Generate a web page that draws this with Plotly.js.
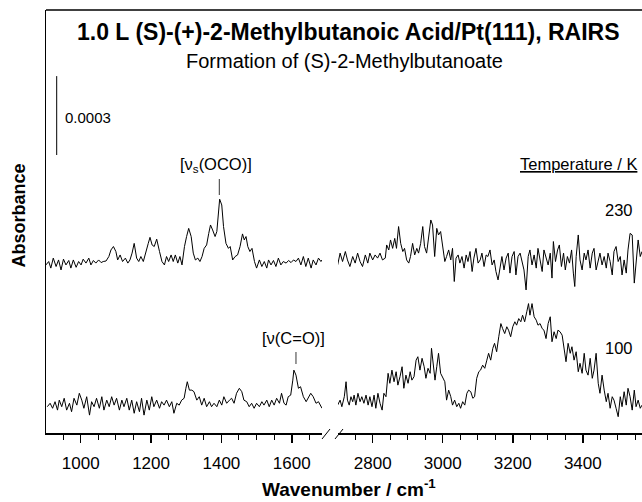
<!DOCTYPE html>
<html>
<head>
<meta charset="utf-8">
<script src="https://cdn.plot.ly/plotly-3.0.1.min.js"></script>
<style>html,body{margin:0;padding:0;background:#fff;}#chart{width:642px;height:502px;}</style>
</head>
<body>
<div id="chart"></div>
<script>
// Absorbance values in units of 1e-4, relative to each trace's baseline
const top_low_wn = [901,909,915,922,930,937,944,951,958,966,972,979,987,994,1001,1007,1015,1023,1029,1036,1043,1051,1058,1064,1072,1080,1086,1093,1100,1105,1112,1119,1127,1134,1140,1146,1152,1159,1165,1171,1178,1186,1192,1197,1203,1209,1216,1224,1231,1238,1244,1250,1257,1263,1269,1276,1282,1288,1295,1301,1307,1314,1320,1326,1333,1339,1345,1351,1358,1364,1369,1375,1382,1387,1391,1395,1401,1406,1413,1420,1425,1432,1439,1446,1453,1458,1460,1465,1470,1475,1481,1487,1494,1500,1508,1515,1522,1529,1534,1541,1548,1555,1562,1569,1576,1584,1591,1598,1605,1612,1619,1626,1633,1640,1647,1655,1661,1669,1676,1683,1686];
const top_low_abs = [-0.04,0.09,-0.16,0.22,-0.10,0.15,-0.23,0.18,-0.04,0.13,-0.16,0.15,-0.13,0.09,-0.04,0.18,0.03,0.22,-0.04,0.13,0.03,0.15,0.05,0.09,0.11,0.28,0.53,0.66,0.47,0.15,0.34,0.09,0.22,0.03,0.15,0.41,0.78,0.22,0.09,0.28,0.09,0.53,0.78,1.01,0.72,0.66,0.94,0.47,0.09,-0.04,0.28,0.09,0.34,0.09,0.34,0.03,0.28,-0.04,0.66,1.04,1.35,1.04,0.41,0.15,0.22,0.09,0.28,0.59,0.72,1.16,1.48,1.29,1.04,1.23,1.92,2.46,2.24,1.42,0.78,0.59,0.66,0.15,0.28,0.34,0.66,1.04,1.14,0.91,1.04,0.66,0.47,0.59,0.09,-0.16,0.15,-0.10,0.09,-0.16,0.15,-0.04,0.13,-0.10,0.22,-0.04,0.09,0.03,0.13,0.05,0.15,0.09,0.22,-0.04,0.28,-0.10,0.22,-0.16,0.15,-0.04,0.22,0.09,0.15];

const top_high_wn = [2700,2707,2714,2722,2728,2735,2743,2750,2757,2764,2771,2779,2786,2792,2800,2807,2814,2821,2828,2836,2840,2846,2851,2857,2863,2868,2874,2880,2886,2891,2897,2903,2908,2914,2920,2926,2931,2937,2943,2948,2954,2960,2966,2971,2977,2983,2988,2994,3000,3006,3011,3017,3023,3028,3033,3038,3044,3049,3055,3061,3067,3072,3078,3084,3089,3095,3101,3107,3112,3118,3124,3129,3135,3141,3147,3152,3158,3164,3169,3175,3181,3187,3192,3198,3204,3209,3215,3221,3227,3232,3238,3244,3249,3255,3261,3267,3272,3278,3284,3289,3295,3301,3307,3312,3316,3322,3328,3333,3339,3345,3350,3356,3362,3368,3373,3377,3381,3387,3392,3398,3404,3409,3415,3421,3427,3432,3438,3444,3449,3455,3461,3467,3472,3478,3484,3489,3495,3501,3507,3512,3518,3524,3529,3535,3541,3547,3552,3558,3564,3569];
const top_high_abs = [-0.04,0.41,0.09,0.47,0.15,-0.10,0.28,0.03,0.41,0.09,-0.10,0.34,0.03,0.41,0.15,0.34,0.22,0.41,0.15,0.22,0.72,0.53,0.91,0.59,0.97,0.59,1.42,0.78,0.47,0.59,0.15,0.03,0.28,0.78,0.34,0.59,0.41,0.78,1.42,0.66,0.41,1.16,1.67,1.48,0.28,1.35,1.10,1.23,0.66,0.09,0.28,0.53,0.15,0.59,-0.67,0.22,0.34,0.03,0.28,-0.16,0.34,0.09,0.47,-0.29,0.22,0.59,0.03,0.15,0.41,-0.10,0.34,0.28,0.53,-0.04,0.15,-0.29,-0.61,-0.10,0.28,-0.23,0.22,0.41,-0.35,0.28,0.47,-0.42,0.28,0.41,0.09,-0.23,-0.99,0.28,0.53,-0.04,0.34,-0.16,0.59,0.15,-0.29,0.53,0.22,-0.04,0.41,-0.54,0.85,0.09,0.53,0.72,-0.10,0.41,-0.23,0.28,0.03,0.53,-0.35,-0.86,0.28,1.10,0.15,-0.23,0.41,0.15,0.53,-0.16,0.41,0.59,-0.23,0.15,0.41,-0.04,0.28,-0.16,0.41,0.09,-0.42,0.47,0.66,0.09,0.28,-0.42,0.15,-0.35,0.53,1.16,1.10,-0.73,0.03,0.91,0.28,0.47];

const bottom_low_wn = [905,913,920,927,934,939,946,953,960,968,974,981,989,996,1003,1009,1017,1025,1031,1038,1045,1053,1060,1066,1074,1081,1088,1095,1102,1110,1117,1123,1131,1138,1145,1152,1159,1167,1173,1180,1188,1195,1202,1208,1216,1224,1230,1237,1244,1252,1259,1265,1273,1280,1287,1294,1299,1303,1309,1316,1322,1330,1337,1344,1351,1358,1366,1372,1379,1387,1394,1401,1407,1415,1423,1429,1436,1443,1451,1458,1464,1472,1479,1486,1493,1500,1508,1515,1521,1529,1536,1543,1550,1557,1565,1571,1578,1584,1590,1597,1603,1606,1612,1619,1625,1633,1641,1647,1654,1661,1669,1676,1682,1686];
const bottom_low_abs = [0,0.13,-0.06,0.19,-0.13,0.25,0,0.32,-0.13,0.13,-0.19,0.32,0.06,0.51,0.25,-0.06,0.38,-0.32,0.19,0,0.32,-0.06,0.38,-0.13,0.25,0,0.38,0.06,0.32,-0.13,0.25,0,0.32,-0.13,0.25,-0.25,0.19,-0.19,0.32,-0.32,0.25,-0.13,0.38,0,0.25,-0.06,0.19,0.06,0.25,0,0.19,-0.25,0.13,0.06,0.25,0.32,0.70,0.95,0.63,0.63,0.57,0.25,0.38,0.06,0.32,0,0.19,0,0.13,0,0.25,0.06,0.38,0.13,0.25,0.32,0.13,0.51,0.70,0.57,0.25,0.19,0,0.13,-0.06,0.13,0,0.19,0.06,0.25,0,0.25,0.06,0.32,0.13,0.51,0.13,0.06,0.38,0.44,1.01,1.39,1.20,0.70,0.76,0.38,0.19,0.32,0.51,0.38,0.13,0.19,0,-0.06];

const bottom_high_wn = [2700,2707,2712,2719,2724,2728,2733,2738,2743,2747,2752,2758,2764,2769,2775,2781,2787,2792,2798,2804,2809,2815,2821,2827,2832,2838,2844,2849,2855,2861,2867,2872,2878,2884,2889,2895,2901,2907,2912,2918,2924,2929,2935,2941,2947,2952,2958,2964,2968,2973,2978,2983,2988,2994,3000,3006,3011,3017,3023,3028,3034,3040,3046,3051,3057,3063,3069,3074,3080,3086,3091,3097,3103,3108,3114,3120,3126,3131,3137,3143,3148,3154,3160,3166,3171,3177,3183,3188,3194,3200,3206,3211,3217,3223,3228,3234,3240,3245,3249,3255,3261,3267,3272,3278,3284,3289,3295,3301,3307,3312,3318,3324,3329,3335,3341,3347,3352,3358,3364,3369,3375,3381,3387,3392,3398,3404,3409,3415,3421,3427,3432,3438,3444,3449,3455,3461,3467,3472,3478,3484,3489,3495,3501,3507,3512,3518,3524,3529,3535,3541,3547,3552,3558,3564,3569];
const bottom_high_abs = [0.06,0.25,0,0.38,0.95,0.25,0.06,0.38,0.19,0.44,0.06,0.51,0.19,0.38,0.13,0.44,0.06,0.38,0,0.44,-0.06,0.51,0.13,-0.13,0.51,0.38,1.27,0.89,1.39,0.95,1.33,0.82,1.14,1.52,0.70,1.20,0.89,1.33,1.01,1.14,1.77,1.90,1.39,1.84,1.52,1.08,1.46,1.27,2.22,1.71,1.01,1.52,2.03,1.27,1.08,0.95,0.25,0.63,0.38,0.06,0.25,0,0.13,-0.06,0.19,0.06,0.51,0.63,0.57,0.32,0.38,1.08,1.33,1.39,1.58,1.46,1.77,2.03,1.77,2.22,2.41,2.09,2.66,3.16,2.97,2.78,3.04,2.91,2.66,3.04,3.23,3.10,3.35,3.23,3.48,3.23,3.61,3.92,3.48,3.92,3.42,3.29,3.10,3.16,2.97,2.91,2.59,3.16,3.42,2.47,2.85,2.59,2.91,2.85,2.72,2.15,1.71,2.41,2.03,2.28,1.77,2.09,1.33,1.65,1.27,2.03,1.39,1.20,1.84,1.08,1.39,2.03,0.89,0.51,1.20,0.63,0.19,0.51,-0.06,0.38,0.25,-0.06,-0.38,0.38,0,0.57,0.06,0.70,0.38,-0.13,0.63,0,0.25,-0.06,0.06];

const temperatures = ["230","100"];
const scaleBarAbs = 0.0003;
const UNIT = 1e-4;

// layout geometry (pixels)
const L = 46, T = 10, PW = 596, PH = 423;
const PXU = 26.3; // pixels per 1e-4 absorbance
const TOP_OFF = 6.43, BOT_OFF = 1.0;
const px = p => (p - L) / PW;
const py = p => (T + PH - p) / PH;
const yv = p => (T + PH - p) / PXU;

const FONT = "Liberation Sans, Arial, Helvetica, sans-serif";
const line = {color: "black", width: 1};

const traces = [
  {x: top_low_wn, y: top_low_abs.map(v => v + TOP_OFF), xaxis: "x", yaxis: "y"},
  {x: top_high_wn, y: top_high_abs.map(v => v + TOP_OFF), xaxis: "x2", yaxis: "y"},
  {x: bottom_low_wn, y: bottom_low_abs.map(v => v + BOT_OFF), xaxis: "x", yaxis: "y"},
  {x: bottom_high_wn, y: bottom_high_abs.map(v => v + BOT_OFF), xaxis: "x2", yaxis: "y"}
].map(t => Object.assign({type: "scatter", mode: "lines", line: line, hoverinfo: "skip"}, t));

const xcommon = {
  showline: true, linecolor: "black", linewidth: 1.5,
  ticks: "outside", ticklen: 8, tickwidth: 1.5, tickcolor: "black",
  dtick: 200, tick0: 0,
  minor: {dtick: 50, tick0: 0, ticks: "outside", ticklen: 5, tickwidth: 1, tickcolor: "black"},
  showgrid: false, zeroline: false,
  tickfont: {family: FONT, size: 17, color: "black"},
  ticklabelstandoff: 6,
  anchor: "y", fixedrange: true
};

const layout = {
  width: 642, height: 502,
  margin: {l: L, r: 0, t: T, b: 502 - T - PH, pad: 0},
  paper_bgcolor: "white", plot_bgcolor: "white",
  showlegend: false, hovermode: false,
  xaxis: Object.assign({}, xcommon, {domain: [0, px(322)], range: [901.3, 1686]}),
  xaxis2: Object.assign({}, xcommon, {domain: [px(338), 1], range: [2701, 3569]}),
  yaxis: {domain: [0, 1], range: [0, PH / PXU], showline: true, linecolor: "black", linewidth: 1.5,
          ticks: "", showticklabels: false, showgrid: false, zeroline: false, anchor: "x", fixedrange: true},
  shapes: [
    {type: "line", xref: "paper", yref: "paper", x0: 0, x1: 1, y0: 1, y1: 1, line: {color: "black", width: 1.5}},
    {type: "line", xref: "paper", yref: "paper", x0: px(322), x1: px(330), y0: py(439), y1: py(429), line: {color: "black", width: 1}},
    {type: "line", xref: "paper", yref: "paper", x0: px(335), x1: px(343), y0: py(439), y1: py(429), line: {color: "black", width: 1}},
    {type: "line", xref: "paper", yref: "y", x0: px(56.7), x1: px(56.7), y0: yv(155), y1: yv(155) + scaleBarAbs / UNIT, line: {color: "black", width: 1}},
    {type: "line", xref: "x", yref: "y", x0: 1394, x1: 1394, y0: yv(195), y1: yv(179), line: {color: "black", width: 0.8}},
    {type: "line", xref: "x", yref: "y", x0: 1612, x1: 1612, y0: yv(364), y1: yv(352), line: {color: "black", width: 0.8}}
  ],
  annotations: [
    {text: "<b>1.0 L (S)-(+)-2-Methylbutanoic Acid/Pt(111), RAIRS</b>", x: px(348.5), y: py(32), font: {size: 23}},
    {text: "Formation of (S)-2-Methylbutanoate", x: px(344), y: py(61), font: {size: 20}},
    {text: "0.0003", x: px(63), y: py(117), xanchor: "left", font: {size: 15}},
    {text: "[ν<sub>s</sub>(OCO)]", x: px(216), y: py(165), font: {size: 16.5}},
    {text: "[ν(C=O)]", x: px(293.5), y: py(338), font: {size: 16.5}},
    {text: "<u>Temperature / K</u>", x: px(639), y: py(164), xanchor: "right", font: {size: 16.5}},
    {text: temperatures[0], x: px(619), y: py(210), font: {size: 16.5}},
    {text: temperatures[1], x: px(619), y: py(348), font: {size: 16.5}},
    {text: "<b>Wavenumber / cm<sup>-1</sup></b>", x: px(349), y: py(488), font: {size: 19}},
    {text: "<b>Absorbance</b>", x: px(18.5), y: py(216), textangle: -90, font: {size: 18}}
  ].map(a => Object.assign({xref: "paper", yref: "paper", showarrow: false, xanchor: "center", yanchor: "middle"}, a,
        {font: Object.assign({family: FONT, color: "black"}, a.font)}))
};

Plotly.newPlot("chart", traces, layout, {displayModeBar: false, staticPlot: true});
</script>
</body>
</html>
